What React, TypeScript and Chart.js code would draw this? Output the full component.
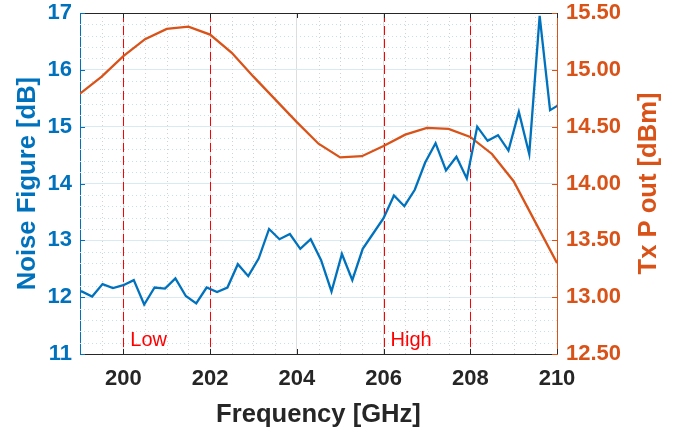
import React, { useEffect, useRef } from 'react';
import { Chart, registerables } from 'chart.js';

Chart.register(...registerables);

// ---- data ----
const nfFreqGHz = [
  198.8, 199.04, 199.28, 199.52, 199.76, 200.0, 200.24, 200.48, 200.72, 200.96,
  201.2, 201.44, 201.68, 201.92, 202.16, 202.4, 202.64, 202.88, 203.12, 203.36,
  203.6, 203.84, 204.08, 204.32, 204.56, 204.8, 205.04, 205.28, 205.52, 205.76,
  206.0, 206.24, 206.48, 206.72, 206.96, 207.2, 207.44, 207.68, 207.92, 208.16,
  208.4, 208.64, 208.88, 209.12, 209.36, 209.6, 209.84, 210.08,
];
const noiseFigureDb = [
  12.12, 12.1, 12.01, 12.23, 12.16, 12.21, 12.3, 11.87, 12.17, 12.15,
  12.33, 12.02, 11.89, 12.17, 12.09, 12.17, 12.58, 12.37, 12.68, 13.2,
  13.02, 13.11, 12.85, 13.02, 12.65, 12.1, 12.76, 12.3, 12.85, 13.12,
  13.39, 13.79, 13.6, 13.89, 14.37, 14.71, 14.23, 14.47, 14.09, 15.0,
  14.75, 14.85, 14.58, 15.26, 14.52, 16.95, 15.29, 15.4,
];
const txFreqGHz = [
  199, 199.5, 200, 200.5, 201, 201.5, 202, 202.5, 203, 203.5, 204, 204.5,
  205, 205.5, 206, 206.5, 207, 207.5, 208, 208.5, 209, 209.5, 210,
];
const txPowerDbm = [
  14.79, 14.94, 15.12, 15.27, 15.36, 15.38, 15.31, 15.15, 14.94, 14.74, 14.54, 14.35,
  14.23, 14.24, 14.33, 14.43, 14.49, 14.48, 14.41, 14.26, 14.02, 13.66, 13.3,
];
const xTickValues = [200, 202, 204, 206, 208, 210];
const nfTickValues = [11, 12, 13, 14, 15, 16, 17];
const txTickValues = [12.5, 13, 13.5, 14, 14.5, 15, 15.5];
const bandEdgesGHz = [200, 202, 206, 208];
const bandLabelText = ['Low', 'High'];
const bandLabelStartGHz = [200, 206];
const xTitle = 'Frequency [GHz]';
const nfTitle = 'Noise Figure [dB]';
const txTitle = 'Tx P out [dBm]';

// ---- style ----
const BLUE = '#0072BD';
const ORANGE = '#D95319';
const DARK = '#262626';
const FAMILY = "'Liberation Sans', Arial, Helvetica, sans-serif";
const tickFont = { family: FAMILY, size: 22, weight: 'bold' as const, lineHeight: 1 };

const zeroPad = (s: any) => {
  s.paddingTop = 0;
  s.paddingBottom = 0;
  s.paddingLeft = 0;
  s.paddingRight = 0;
};

const decorPlugin = {
  id: 'decor',
  beforeDatasetsDraw(chart: any) {
    const { ctx, chartArea: a, scales } = chart;
    const xs = scales.x;
    const ys = scales.y;
    ctx.save();
    ctx.lineWidth = 1;
    ctx.setLineDash([1, 3]);
    // horizontal minor grid
    ctx.strokeStyle = '#C6DFF0';
    for (let k = 0; k < nfTickValues.length - 1; k++) {
      const lo = nfTickValues[k];
      const hi = nfTickValues[k + 1];
      for (let s = 1; s < 5; s++) {
        const py = Math.round(ys.getPixelForValue(lo + ((hi - lo) * s) / 5)) + 0.5;
        ctx.beginPath();
        ctx.moveTo(a.left, py);
        ctx.lineTo(a.right, py);
        ctx.stroke();
      }
    }
    // vertical minor grid
    ctx.strokeStyle = '#D2D2D2';
    const step = (xTickValues[1] - xTickValues[0]) / 4;
    for (let v = xTickValues[0] - 2 * (xTickValues[1] - xTickValues[0]); v < xs.max; v += step) {
      if (v <= xs.min || v >= xs.max) continue;
      if (xTickValues.some((t) => Math.abs(t - v) < 1e-6)) continue;
      const px = Math.round(xs.getPixelForValue(v)) + 0.5;
      ctx.beginPath();
      ctx.moveTo(px, a.top);
      ctx.lineTo(px, a.bottom);
      ctx.stroke();
    }
    // band edges
    ctx.setLineDash([9, 4]);
    ctx.strokeStyle = '#FF0000';
    for (const e of bandEdgesGHz) {
      const px = Math.round(xs.getPixelForValue(e)) + 0.5;
      ctx.beginPath();
      ctx.moveTo(px, a.top);
      ctx.lineTo(px, a.bottom);
      ctx.stroke();
    }
    ctx.restore();
  },
  afterDatasetsDraw(chart: any) {
    const { ctx, chartArea: a, scales } = chart;
    const xs = scales.x;
    const ys = scales.y;
    const y1 = scales.y1;
    ctx.save();
    ctx.lineWidth = 1;
    ctx.setLineDash([]);
    // top box line
    ctx.strokeStyle = DARK;
    const ty = Math.round(a.top) + 0.5;
    ctx.beginPath();
    ctx.moveTo(a.left, ty);
    ctx.lineTo(a.right, ty);
    ctx.stroke();
    const TL = 5;
    // x ticks (inward, top and bottom)
    for (const v of xTickValues) {
      const px = Math.round(xs.getPixelForValue(v)) + 0.5;
      ctx.beginPath();
      ctx.moveTo(px, a.bottom);
      ctx.lineTo(px, a.bottom - TL);
      ctx.moveTo(px, a.top);
      ctx.lineTo(px, a.top + TL);
      ctx.stroke();
    }
    ctx.strokeStyle = BLUE;
    for (const v of nfTickValues) {
      const py = Math.round(ys.getPixelForValue(v)) + 0.5;
      ctx.beginPath();
      ctx.moveTo(a.left, py);
      ctx.lineTo(a.left + TL, py);
      ctx.stroke();
    }
    ctx.strokeStyle = ORANGE;
    for (const v of txTickValues) {
      const py = Math.round(y1.getPixelForValue(v)) + 0.5;
      ctx.beginPath();
      ctx.moveTo(a.right, py);
      ctx.lineTo(a.right - TL, py);
      ctx.stroke();
    }
    // band labels
    ctx.fillStyle = '#FF0000';
    ctx.font = `20px ${FAMILY}`;
    ctx.textAlign = 'left';
    ctx.textBaseline = 'alphabetic';
    bandLabelText.forEach((t, i) => {
      ctx.fillText(t, xs.getPixelForValue(bandLabelStartGHz[i]) + 7, ys.getPixelForValue(ys.min) - 8);
    });
    ctx.restore();
  },
  afterDraw(chart: any) {
    const { ctx, chartArea: a } = chart;
    const cy = (a.top + a.bottom) / 2;
    ctx.save();
    ctx.font = `bold 25.6px ${FAMILY}`;
    ctx.textAlign = 'center';
    ctx.textBaseline = 'alphabetic';
    // x title
    ctx.fillStyle = DARK;
    ctx.fillText(xTitle, (a.left + a.right) / 2, a.bottom + 68);
    // left title
    ctx.save();
    ctx.translate(a.left - 45, cy);
    ctx.rotate(-Math.PI / 2);
    ctx.fillStyle = BLUE;
    ctx.fillText(nfTitle, 0, 0);
    ctx.restore();
    // right title (reads bottom to top)
    ctx.save();
    ctx.translate(a.right + 99, cy);
    ctx.rotate(-Math.PI / 2);
    ctx.fillStyle = ORANGE;
    ctx.fillText(txTitle, 0, 0);
    ctx.restore();
    ctx.restore();
  },
};

export default function App() {
  const ref = useRef<HTMLCanvasElement>(null);
  useEffect(() => {
    const canvas = ref.current;
    if (!canvas) return;
    const chart = new Chart(canvas, {
      type: 'line',
      data: {
        datasets: [
          {
            label: 'Noise Figure',
            data: nfFreqGHz.map((x, i) => ({ x, y: noiseFigureDb[i] })),
            borderColor: BLUE,
            backgroundColor: BLUE,
            borderWidth: 2.3,
            pointRadius: 0,
            tension: 0,
            yAxisID: 'y',
            clip: 0,
          } as any,
          {
            label: 'Tx P out',
            data: txFreqGHz.map((x, i) => ({ x, y: txPowerDbm[i] })),
            borderColor: ORANGE,
            backgroundColor: ORANGE,
            borderWidth: 2.3,
            pointRadius: 0,
            tension: 0,
            yAxisID: 'y1',
            clip: 0,
          } as any,
        ],
      },
      options: {
        animation: false,
        responsive: false,
        devicePixelRatio: 1,
        layout: { padding: { top: 13, left: 0, right: 0, bottom: 0 } },
        plugins: { legend: { display: false }, tooltip: { enabled: false } },
        scales: {
          x: {
            type: 'linear',
            min: 199,
            max: 210,
            afterBuildTicks: (s: any) => {
              s.ticks = xTickValues.map((value) => ({ value }));
            },
            afterFit: (s: any) => {
              s.height = 79;
              zeroPad(s);
            },
            grid: { color: '#DEDEDE', lineWidth: 1, drawTicks: false },
            border: { display: true, color: DARK, width: 1 },
            ticks: {
              color: DARK,
              font: { family: FAMILY, size: 22, weight: 'bold', lineHeight: 1.2 },
              padding: 12,
              maxRotation: 0,
              autoSkip: false,
              callback: (v: any) => String(v),
            },
          },
          y: {
            type: 'linear',
            position: 'left',
            min: 11,
            max: 17,
            afterBuildTicks: (s: any) => {
              s.ticks = nfTickValues.map((value) => ({ value }));
            },
            afterFit: (s: any) => {
              s.width = 80;
              zeroPad(s);
            },
            grid: { color: '#D9EAF5', lineWidth: 1, drawTicks: false },
            border: { display: true, color: BLUE, width: 1 },
            ticks: {
              color: BLUE,
              font: tickFont,
              padding: 8,
              autoSkip: false,
              callback: (v: any) => String(v),
            },
          },
          y1: {
            type: 'linear',
            position: 'right',
            min: 12.5,
            max: 15.5,
            afterBuildTicks: (s: any) => {
              s.ticks = txTickValues.map((value) => ({ value }));
            },
            afterFit: (s: any) => {
              s.width = 125;
              zeroPad(s);
            },
            grid: { display: false, drawTicks: false },
            border: { display: true, color: ORANGE, width: 1 },
            ticks: {
              color: ORANGE,
              font: tickFont,
              padding: 9,
              autoSkip: false,
              callback: (v: any) => Number(v).toFixed(2),
            },
          },
        },
      } as any,
      plugins: [decorPlugin],
    });
    return () => chart.destroy();
  }, []);
  return (
    <div style={{ position: 'absolute', left: 0, top: 0, width: 682, height: 433, background: '#ffffff' }}>
      <canvas ref={ref} width={682} height={433} style={{ display: 'block', width: 682, height: 433 }} />
    </div>
  );
}
